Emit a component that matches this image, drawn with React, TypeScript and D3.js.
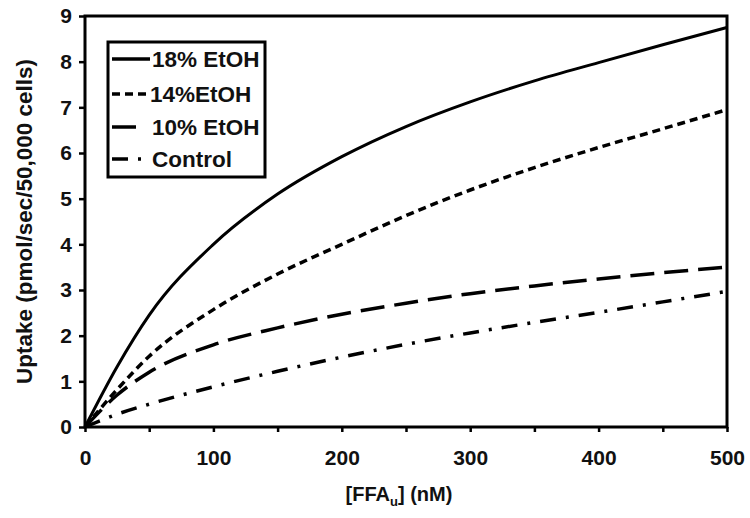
import React, { useRef, useEffect } from "react";
import { select, scaleLinear, line, curveMonotoneX, axisLeft, axisBottom, range } from "d3";

// FFAu concentration (nM) where the curves were read
const conc = [0, 25, 50, 100, 150, 200, 250, 300, 350, 400, 450, 500];

// uptake values
const etoh18 = [0, 1.32, 2.45, 4.0, 5.1, 5.92, 6.58, 7.12, 7.58, 7.98, 8.37, 8.75];
const etoh14 = [0, 0.82, 1.55, 2.57, 3.35, 4.0, 4.63, 5.19, 5.68, 6.12, 6.53, 6.95];
const etoh10 = [0, 0.7, 1.2, 1.8, 2.17, 2.47, 2.71, 2.92, 3.09, 3.24, 3.38, 3.5];
const control = [0, 0.28, 0.5, 0.88, 1.22, 1.53, 1.81, 2.06, 2.29, 2.51, 2.74, 2.97];

const seriesNames = ["18% EtOH", "14%EtOH", "10% EtOH", "Control"];
const seriesValues = [etoh18, etoh14, etoh10, control];
const dashes = ["none", "8,5", "24,10", "16,10,3,10"];

const xTicks = range(0, 501, 50);
const xTickLabels = [0, 100, 200, 300, 400, 500];
const yTicks = range(0, 10, 1);

const FONT = "'Liberation Sans', Arial, sans-serif";

export default function App() {
  const svgRef = useRef<SVGSVGElement>(null);

  useEffect(() => {
    const svg = select(svgRef.current);
    svg.selectAll("*").remove();

    const left = 85, right = 727, top = 16, bottom = 427;

    const x = scaleLinear().domain([0, 500]).range([left, right]);
    const y = scaleLinear().domain([0, 9]).range([bottom, top]);

    // axes
    const yAxis = axisLeft(y).tickValues(yTicks).tickSize(6).tickSizeOuter(0).tickPadding(7);
    const gy = svg.append("g").attr("transform", `translate(${left},0)`).call(yAxis);
    gy.select(".domain").remove();
    gy.selectAll("line").attr("stroke", "#000").attr("stroke-width", 2.5);
    gy.selectAll("text")
      .attr("font-family", FONT)
      .attr("font-weight", "bold")
      .attr("font-size", 21)
      .attr("fill", "#111");

    const xAxis = axisBottom(x)
      .tickValues(xTicks)
      .tickSize(5)
      .tickSizeOuter(0)
      .tickPadding(18)
      .tickFormat((d) => (xTickLabels.includes(d as number) ? String(d) : ""));
    const gx = svg.append("g").attr("transform", `translate(0,${bottom})`).call(xAxis);
    gx.select(".domain").remove();
    gx.selectAll("line").attr("stroke", "#000").attr("stroke-width", 2.5);
    gx.selectAll("text")
      .attr("font-family", FONT)
      .attr("font-weight", "bold")
      .attr("font-size", 21)
      .attr("fill", "#111");

    // frame
    svg.append("rect")
      .attr("x", left)
      .attr("y", top)
      .attr("width", right - left)
      .attr("height", bottom - top)
      .attr("fill", "none")
      .attr("stroke", "#000")
      .attr("stroke-width", 3);

    // curves
    const myLine = line<number>()
      .x((d, i) => x(conc[i]))
      .y((d) => y(d))
      .curve(curveMonotoneX);

    svg.selectAll(".curve")
      .data(seriesValues)
      .join("path")
      .attr("class", "curve")
      .attr("d", (d) => myLine(d))
      .attr("fill", "none")
      .attr("stroke", "#000")
      .attr("stroke-width", (d, i) => (i === 0 ? 3 : 3.5))
      .attr("stroke-dasharray", (d, i) => dashes[i]);

    // legend
    const lg = svg.append("g");
    lg.append("rect")
      .attr("x", 108)
      .attr("y", 42)
      .attr("width", 157)
      .attr("height", 135)
      .attr("fill", "#fff")
      .attr("stroke", "#000")
      .attr("stroke-width", 3);
    const rows = [59, 94, 127, 159];
    seriesNames.forEach((name, i) => {
      lg.append("line")
        .attr("x1", 112)
        .attr("x2", i === 2 ? 143 : 150)
        .attr("y1", rows[i])
        .attr("y2", rows[i])
        .attr("stroke", "#000")
        .attr("stroke-width", 3.5)
        .attr("stroke-dasharray", dashes[i]);
      lg.append("text")
        .attr("x", i === 1 ? 150 : 152)
        .attr("y", rows[i])
        .attr("dy", "0.36em")
        .attr("font-family", FONT)
        .attr("font-weight", "bold")
        .attr("font-size", 22.5)
        .attr("fill", "#111")
        .text(name);
    });

    // axis titles
    svg.append("text")
      .attr("transform", `translate(32,${(top + bottom) / 2}) rotate(-90)`)
      .attr("text-anchor", "middle")
      .attr("font-family", FONT)
      .attr("font-weight", "bold")
      .attr("font-size", 22.5)
      .attr("fill", "#111")
      .text("Uptake (pmol/sec/50,000 cells)");

    const xt = svg.append("text")
      .attr("x", 399)
      .attr("y", 501)
      .attr("text-anchor", "middle")
      .attr("font-family", FONT)
      .attr("font-weight", "bold")
      .attr("font-size", 20)
      .attr("fill", "#111");
    xt.append("tspan").text("[FFA");
    xt.append("tspan").attr("font-size", 13).attr("dy", 5).text("u");
    xt.append("tspan").attr("dy", -5).text("] (nM)");
  }, []);

  return (
    <svg
      ref={svgRef}
      width={750}
      height={518}
      style={{ position: "absolute", left: 0, top: 0, background: "#fff" }}
    />
  );
}
